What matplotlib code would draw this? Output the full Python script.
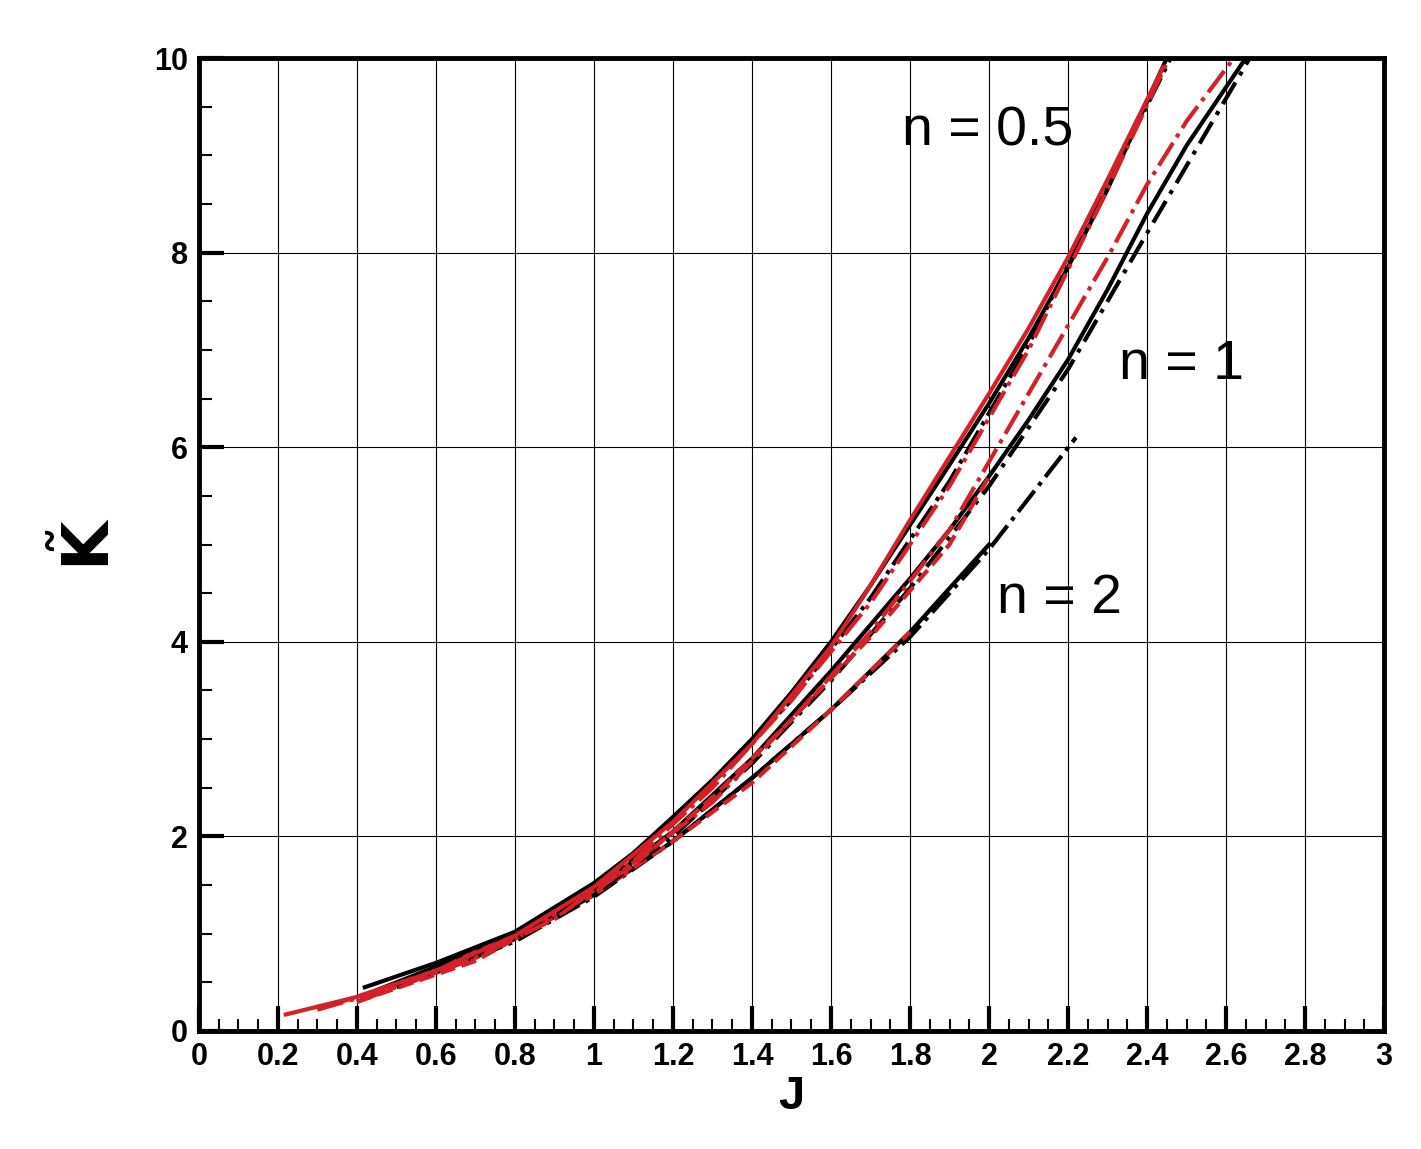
import matplotlib
matplotlib.use("Agg")
import matplotlib.pyplot as plt
from matplotlib.ticker import MultipleLocator
import numpy as np

# n = 0.5 curves
j05_bs = [0.42, 0.6, 0.8, 1.0, 1.1, 1.2, 1.3, 1.4, 1.5, 1.6, 1.7, 1.8, 1.9, 2.0, 2.1, 2.2, 2.3, 2.45]
k05_bs = [0.45, 0.70, 1.02, 1.52, 1.83, 2.20, 2.58, 3.00, 3.48, 4.00, 4.58, 5.20, 5.82, 6.45, 7.12, 7.85, 8.65, 10.0]
j05_rs = [0.22, 0.4, 0.6, 0.8, 1.0, 1.2, 1.4, 1.6, 1.7, 1.8, 1.9, 2.0, 2.1, 2.2, 2.3, 2.44]
k05_rs = [0.17, 0.35, 0.62, 0.98, 1.48, 2.15, 2.95, 3.95, 4.58, 5.25, 5.90, 6.55, 7.22, 7.95, 8.75, 9.9]
j05_bd = [0.5, 0.7, 0.9, 1.1, 1.3, 1.5, 1.7, 1.9, 2.1, 2.3, 2.46]
k05_bd = [0.48, 0.78, 1.20, 1.80, 2.55, 3.40, 4.45, 5.65, 7.05, 8.70, 10.0]
j05_rd = [0.3, 0.5, 0.7, 0.9, 1.1, 1.3, 1.5, 1.7, 1.9, 2.1, 2.3, 2.45]
k05_rd = [0.22, 0.45, 0.75, 1.15, 1.75, 2.50, 3.40, 4.40, 5.60, 7.00, 8.65, 9.95]
# n = 1 curves
j1_bs = [0.45, 0.8, 1.0, 1.2, 1.4, 1.6, 1.8, 1.9, 2.0, 2.1, 2.2, 2.3, 2.4, 2.5, 2.65]
k1_bs = [0.42, 0.98, 1.45, 2.05, 2.80, 3.70, 4.65, 5.15, 5.70, 6.28, 6.90, 7.62, 8.40, 9.10, 10.0]
j1_rs = [0.3, 0.6, 0.9, 1.1, 1.3, 1.5, 1.7, 1.9, 2.0]
k1_rs = [0.22, 0.62, 1.20, 1.70, 2.40, 3.20, 4.05, 5.00, 5.70]
j1_bd = [0.5, 0.8, 1.0, 1.2, 1.4, 1.6, 1.8, 2.0, 2.2, 2.4, 2.66]
k1_bd = [0.45, 0.95, 1.40, 2.00, 2.75, 3.60, 4.55, 5.60, 6.80, 8.20, 10.0]
j1_rd = [0.4, 0.7, 1.0, 1.3, 1.5, 1.7, 1.9, 2.0, 2.1, 2.2, 2.3, 2.4, 2.5, 2.62]
k1_rd = [0.30, 0.75, 1.42, 2.35, 3.20, 4.10, 5.15, 5.85, 6.55, 7.25, 7.95, 8.70, 9.35, 10.0]
# n = 2 curves
j2_bs = [0.6, 0.8, 1.0, 1.2, 1.4, 1.6, 1.8, 2.0]
k2_bs = [0.62, 0.95, 1.40, 1.95, 2.60, 3.30, 4.10, 5.00]
j2_bd = [0.6, 0.8, 1.0, 1.2, 1.4, 1.6, 1.8, 2.0, 2.22]
k2_bd = [0.60, 0.92, 1.38, 1.95, 2.60, 3.30, 4.05, 4.95, 6.10]
j2_rd = [0.4, 0.7, 1.0, 1.2, 1.4, 1.6, 1.8]
k2_rd = [0.30, 0.72, 1.40, 1.95, 2.55, 3.30, 4.10]

plt.rcParams['font.family'] = ['Liberation Sans', 'DejaVu Sans']
fig = plt.figure(figsize=(14.21, 11.49), dpi=100)
ax = fig.add_axes([0.140, 0.1027, 0.834, 0.8468])
black, red = 'black', '#d42028'
lw = 3
ax.plot(j2_bs, k2_bs, color=black, lw=lw)
ax.plot(j2_bd, k2_bd, color=black, lw=lw, ls='-.')
ax.plot(j2_rd, k2_rd, color=red, lw=lw, ls='--')
ax.plot(j1_bs, k1_bs, color=black, lw=lw)
ax.plot(j1_bd, k1_bd, color=black, lw=lw, ls=(0, (6, 2, 1, 2)))
ax.plot(j1_rs, k1_rs, color=red, lw=lw, ls='--')
ax.plot(j1_rd, k1_rd, color=red, lw=lw, ls='-.')
ax.plot(j05_bs, k05_bs, color=black, lw=lw)
ax.plot(j05_bd, k05_bd, color=black, lw=lw, ls='-.')
ax.plot(j05_rd, k05_rd, color=red, lw=lw, ls='-.')
ax.plot(j05_rs, k05_rs, color=red, lw=lw)

ax.set_xlim(0, 3)
ax.set_ylim(0, 10)
ax.xaxis.set_major_locator(MultipleLocator(0.2))
ax.xaxis.set_minor_locator(MultipleLocator(0.05))
ax.yaxis.set_major_locator(MultipleLocator(2))
ax.yaxis.set_minor_locator(MultipleLocator(0.5))
ax.grid(True, which='major', color='black', lw=0.8)
for s in ax.spines.values():
    s.set_linewidth(3.5)
ax.tick_params(which='major', direction='in', length=18, width=3, labelsize=22, pad=8)
ax.tick_params(which='minor', direction='in', length=9, width=1.5)
ax.set_xticks(np.arange(0, 3.01, 0.2))
ax.set_xticklabels(['0', '0.2', '0.4', '0.6', '0.8', '1', '1.2', '1.4', '1.6', '1.8', '2',
                    '2.2', '2.4', '2.6', '2.8', '3'])
ax.set_yticks([0, 2, 4, 6, 8, 10])
ax.set_yticklabels(['0', '2', '4', '6', '8', '10'])
for t in ax.get_xticklabels() + ax.get_yticklabels():
    t.set_fontweight('bold')
ax.set_xlabel('J', fontsize=34, fontweight='bold', labelpad=2)
ax.set_ylabel(r'$\tilde{\mathbf{K}}$', fontsize=46, labelpad=22)

ax.text(1.78, 9.1, 'n = 0.5', fontsize=40)
ax.text(2.33, 6.7, 'n = 1', fontsize=40)
ax.text(2.02, 4.3, 'n = 2', fontsize=40)
fig.savefig('out.png', dpi=100)
